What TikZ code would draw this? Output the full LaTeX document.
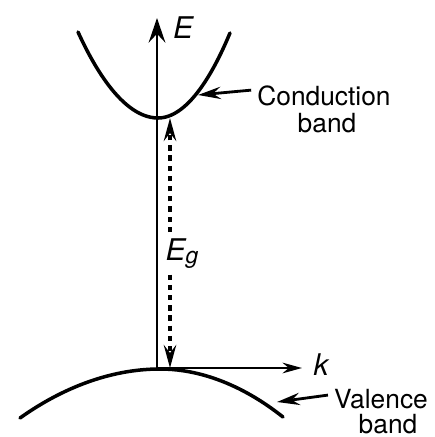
\documentclass[tikz,border=0pt]{standalone}
\usepackage{fontspec}
\setmainfont{TeX Gyre Heros}
\usetikzlibrary{arrows.meta,positioning}
\begin{document}
\begin{tikzpicture}[x=0.02cm,y=-0.02cm,>={Stealth[length=13pt,width=7pt,inset=4.5pt]},font=\fontsize{15}{18}\selectfont]
\tikzstyle{band}=[line width=2pt,line cap=round]
\tikzstyle{ax}=[line width=1.6pt,->]
\tikzstyle{gap}=[line width=2.2pt,dash pattern=on 3pt off 2.8pt,->]
\tikzstyle{ptr}=[line width=1.6pt,->]
\tikzstyle{sym}=[font=\fontsize{17}{20}\selectfont\itshape]
\useasboundingbox (0,0) rectangle (435,437);
\coordinate (o) at (157,368);
\coordinate (etop) at (157,18);
\coordinate (ktip) at (302,368);
\coordinate (cmin) at (170,118);
\coordinate (vtop) at (170,368);
\coordinate (cpt) at (198,95);
\coordinate (vpt) at (277,402);
% bands
\draw[band] (78,32) parabola bend (158,118) (230,33);
\draw[band] (20,418) parabola bend (160,369) (283,417);
% axes
\draw[ax,>={Stealth[length=14pt,width=9.5pt,inset=5pt]}] (o) -- (etop);
\draw[ax,>={Stealth[length=11pt,width=6pt,inset=3.5pt]}] (o) -- (ktip);
\node[sym,anchor=base] (e) at (183,38) {E};
\node[sym,anchor=base] (k) at (321,375) {k};
% gap
\node[sym,anchor=base] (eg) at (182,260) {E\raisebox{-2pt}{\fontsize{13}{13}\selectfont g}};
\draw[gap] (eg.north -| cmin) -- (cmin);
\draw[gap] (eg.south -| vtop) -- (vtop);
% labels
\node[anchor=base] (cb) at (324,105) {Conduction};
\node[anchor=base] (cb2) at (327,132) {band};
\node[anchor=base] (vb) at (381,408) {Valence};
\node[anchor=base] (vb2) at (388,433) {band};
\draw[ptr] ([yshift=3pt]cb.west) -- (cpt);
\draw[ptr] ([yshift=2pt]vb.west) -- (vpt);
\end{tikzpicture}
\end{document}
